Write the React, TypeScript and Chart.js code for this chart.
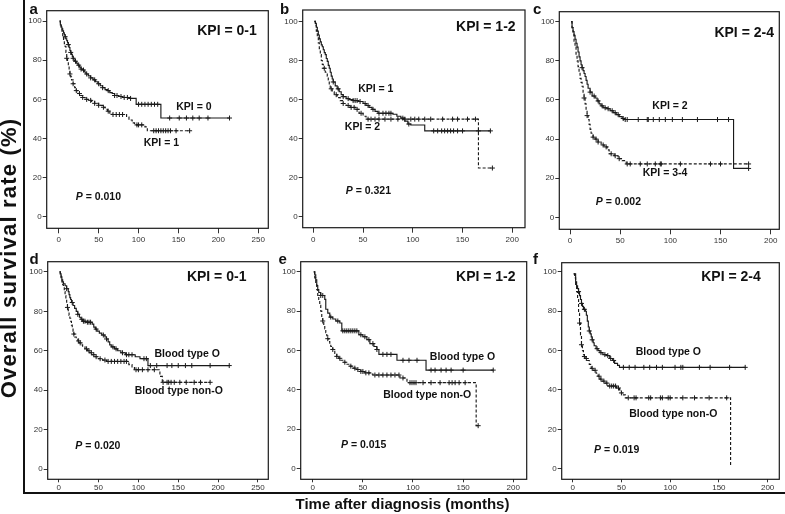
import React, { useEffect, useRef } from 'react';
import { Chart, registerables } from 'chart.js';

Chart.register(...registerables);

const FONT = '"Liberation Sans", Arial, Helvetica, sans-serif';
const INK = '#1a1a1a';
const W = 785;
const H = 514;
const Y_AXIS_W = 32;
const X_AXIS_H = 22;

// ---------- tick labels ----------
const Y_TICKS = [0, 20, 40, 60, 80, 100];
const X_TICKS_250 = [0, 50, 100, 150, 200, 250];
const X_TICKS_200 = [0, 50, 100, 150, 200];

// ---------- panel a : KPI 0-1 ----------
const A_KPI0_STEPS = [[1,100],[2,98],[3,97],[4,96],[5,95],[6,94],[7,93],[8,92],[9,91],[10,90],[11,89],[12,88],[13,86.5],[14,85],[15,84],[16,83],[17,82],[18,81],[19,80],[20,79.5],[22,78.5],[24,77.5],[26,76.5],[28,75.5],[30,75],[32,74],[34,73],[37,72],[40,71],[43,70],[46,69],[49,68],[52,67],[55,66],[58,65],[61,64.5],[64,63.5],[67,63],[70,62],[75,61.5],[80,61],[89,60.5],[97,57.5],[128,50.5],[214,50.5]];
const A_KPI0_CENS = [8,12,15,18,21,25,28,31,35,40,45,50,55,62,70,73,78,82,86,90,100,104,108,112,116,120,124,139,151,160,168,176,187,214];
const A_KPI1_STEPS = [[1,100],[2,98],[3,96],[4,94],[5,92],[6,90],[7,88.5],[8,87],[9,84],[10,81],[11,79],[12,77],[13,75],[14,73],[15,71.5],[16,70],[18,68],[20,66],[22,64.5],[24,63],[27,62],[30,61],[33,60],[37,59.5],[41,59],[45,58],[50,57],[55,56],[58,55],[61,54],[64,53],[67,52.3],[85,51],[88,49.5],[92,48],[95,47],[108,46],[111,44],[164,44]];
const A_KPI1_CENS = [10,14,18,22,26,30,35,40,45,50,56,62,68,72,76,80,98,100,104,119,122,125,128,131,134,137,140,147,164];

// ---------- panel b : KPI 1-2 ----------
const B_KPI1_STEPS = [[1,100],[2,99],[3,97],[4,95],[5,93],[6,91],[7,89.5],[8,88],[9,87],[10,85.5],[11,84],[12,83],[13,81],[14,79.5],[15,77.5],[16,76],[17,74],[18,72],[19,70.5],[20,69],[22,67],[24,65.5],[26,64],[28,62.5],[30,61.5],[33,60.5],[36,60],[40,59.5],[45,59],[50,58],[53,57],[56,56],[59,55],[62,54],[65,53],[80,52.5],[84,51.5],[88,50.5],[92,49],[95,47.5],[98,47],[112,44],[178,44]];
const B_KPI1_CENS = [20,25,30,35,40,42,44,47,52,55,60,66,70,73,76,78,90,96,121,125,129,132,135,138,141,145,150,166,178];
const B_KPI2_STEPS = [[1,100],[2,98],[3,95],[4,92],[5,89],[6,86],[7,83],[8,80],[9,78],[10,76],[12,74],[14,72],[15,70],[16,67.5],[17,65.5],[19,64],[21,62.5],[24,61],[27,59.5],[30,58],[33,57],[37,56],[42,55],[46,53],[50,51.5],[53,50],[166,25],[180,25]];
const B_KPI2_CENS = [11,18,23,30,35,38,41,44,48,55,58,62,66,72,78,85,92,98,102,106,112,118,130,140,145,155,163,180];

// ---------- panel c : KPI 2-4 ----------
const C_KPI2_STEPS = [[1,100],[2,97],[3,95],[4,93],[5,91],[6,89],[7,87],[8,84.5],[9,82],[10,80],[11,78],[12,76.5],[13,75],[14,73.5],[15,72],[16,70],[17,68],[18,66],[20,64],[22,62],[25,61],[27,59.5],[29,58],[31,57],[33,56],[37,55.5],[40,54.5],[43,53.5],[46,52.5],[49,51.5],[52,50.5],[54,50],[163,25],[178,25]];
const C_KPI2_CENS = [12,20,24,28,32,35,38,42,45,48,53,55,57,68,77,78,83,89,95,102,112,127,147,158,178];
const C_KPI34_STEPS = [[1,100],[2,97],[3,94],[4,90],[5,87],[6,83],[7,80],[8,77],[9,74],[10,71],[11,69],[12,67],[13,64],[14,61],[15,58],[16,55],[17,52],[18,50],[19,47.5],[20,45],[21,43],[23,41],[25,40],[28,38.5],[31,37],[34,36],[37,34.5],[39,32.5],[44,31.5],[48,30],[52,29],[56,27.3],[178,27.3]];
const C_KPI34_CENS = [14,17,23,26,28,33,36,41,45,49,57,60,70,77,85,90,91,110,140,150,178];

// ---------- panel d : KPI 0-1, blood type ----------
const D_O_STEPS = [[1,100],[2,99],[3,97.5],[4,96],[5,95],[6,94],[8,93],[10,91.5],[12,90],[13,88.5],[14,87],[15,86],[16,84.5],[18,83],[20,81.5],[22,80],[24,78.5],[26,77],[28,76],[30,75],[34,74.5],[42,73.5],[44,72],[46,71],[48,70],[51,69],[54,68],[58,67],[60,66],[62,64.5],[64,63],[66,62],[70,61],[74,60],[78,59],[84,58],[96,57],[102,56],[112,52.5],[214,52.5]];
const D_O_CENS = [10,17,24,29,31,33,36,38,40,47,56,60,68,72,80,85,88,92,107,110,115,123,136,142,150,159,167,190,214];
const D_NONO_STEPS = [[1,100],[2,98],[3,96.5],[4,95],[5,93.5],[6,92],[7,90],[8,88],[9,86],[10,84],[11,82],[12,80],[13,78],[14,76.5],[15,75],[16,73],[17,71.5],[18,70],[19,68.5],[20,67],[22,66],[24,65],[26,64],[28,63],[30,62],[33,61],[36,60],[39,59],[42,58],[45,57],[50,56],[55,55.3],[60,54.6],[88,53],[92,51.5],[95,50.4],[127,47],[130,44],[190,44]];
const D_NONO_CENS = [11,19,25,27,35,38,41,44,47,52,58,62,66,70,74,78,82,85,97,100,105,112,120,131,136,138,141,145,152,160,170,178,190];

// ---------- panel e : KPI 1-2, blood type ----------
const E_O_STEPS = [[1,100],[2,98.5],[3,96],[4,93],[5,91],[6,89.5],[8,88],[12,86],[13,81],[15,79],[17,77],[20,76],[23,75],[27,74],[29,70],[46,68],[50,67],[54,65.5],[57,63.5],[61,62],[64,60.5],[66,58],[84,55],[113,50],[180,50]];
const E_O_CENS = [8,10,18,25,30,32,34,36,38,40,42,44,48,52,56,60,64,70,74,78,90,96,104,118,122,128,133,138,150,180];
const E_NONO_STEPS = [[1,100],[2,97],[3,94],[4,91],[5,88],[6,86],[7,83],[8,80],[9,77],[10,75],[11,73],[12,71],[13,69],[14,67.5],[15,66],[16,64.5],[17,63],[18,62],[20,60.5],[22,58.5],[24,57],[26,56],[28,55],[30,54],[33,53],[36,52],[40,51],[44,50.3],[48,49.3],[52,48.6],[57,48],[60,47.5],[87,46],[94,43.6],[163,21.7],[165,21.7]];
const E_NONO_CENS = [10,15,20,24,27,32,38,42,45,48,50,53,56,62,66,70,74,78,82,86,90,97,99,101,103,110,118,127,136,139,142,146,152,165];

// ---------- panel f : KPI 2-4, blood type ----------
const F_O_STEPS = [[1,99],[3,95],[4,93],[5,91.5],[6,90],[7,88],[8,86],[9,84],[10,82.5],[11,81],[13,80],[14,78],[15,75],[16,72],[17,70],[18,68.5],[19,67],[20,65.5],[21,64],[22,62.5],[24,61],[26,60],[28,59],[31,58],[35,57.5],[38,56],[41,55],[43,53.5],[46,52.5],[48,51.5],[177,51.5]];
const F_O_CENS = [6,9,12,17,20,25,29,33,36,39,42,52,58,64,73,79,86,92,105,111,113,130,141,161,177];
const F_NONO_STEPS = [[1,99],[2,97],[3,93],[4,90],[5,86],[6,79],[7,74],[8,68],[9,63],[10,60],[11,58],[12,57],[13,56],[15,55],[17,53],[19,51],[21,50],[24,48.5],[26,47],[28,45.5],[30,44.5],[33,43.5],[36,42],[45,41],[48,40],[50,38.5],[52,37.5],[54,36],[162,1]];
const F_NONO_CENS = [7,9,12,14,20,23,27,29,32,35,38,40,42,44,47,50,57,63,65,78,80,90,92,98,100,113,125,140,158];

// ---------- panel layout ----------
type Curve = { steps: number[][]; cens: number[]; dashed: boolean };
type Label = { text: string; t: number; s: number; kind: 'title' | 'curve' | 'p' };
type PanelCfg = {
  letter: string; lx: number; ly: number;
  box: { l: number; t: number; r: number; b: number };
  xMin: number; xMax: number; yMin: number; yMax: number;
  xTicks: number[]; tickLen: number; tickPad: number;
  curves: Curve[]; labels: Label[];
};

const PANELS: PanelCfg[] = [
  {
    letter: 'a', lx: 29.5, ly: 13.5,
    box: { l: 46.7, t: 10.7, r: 268.3, b: 228.3 },
    xMin: -15.1, xMax: 262.6, yMin: -5.8, yMax: 105.3, xTicks: X_TICKS_250, tickLen: 5, tickPad: 2,
    curves: [
      { steps: A_KPI0_STEPS, cens: A_KPI0_CENS, dashed: false },
      { steps: A_KPI1_STEPS, cens: A_KPI1_CENS, dashed: true },
    ],
    labels: [
      { text: 'KPI = 0-1', t: 210.8, s: 94.7, kind: 'title' },
      { text: 'KPI = 0', t: 169.4, s: 56, kind: 'curve' },
      { text: 'KPI = 1', t: 128.6, s: 37.6, kind: 'curve' },
      { text: '0.010', t: 49.7, s: 10.2, kind: 'p' },
    ],
  },
  {
    letter: 'b', lx: 280, ly: 13.5,
    box: { l: 302.7, t: 10, r: 525, b: 227.7 },
    xMin: -10.7, xMax: 212.8, yMin: -5.5, yMax: 105.8, xTicks: X_TICKS_200, tickLen: 5, tickPad: 2,
    curves: [
      { steps: B_KPI1_STEPS, cens: B_KPI1_CENS, dashed: false },
      { steps: B_KPI2_STEPS, cens: B_KPI2_CENS, dashed: true },
    ],
    labels: [
      { text: 'KPI = 1-2', t: 173.4, s: 97.2, kind: 'title' },
      { text: 'KPI = 1', t: 62.8, s: 65.3, kind: 'curve' },
      { text: 'KPI = 2', t: 49.4, s: 45.9, kind: 'curve' },
      { text: '0.321', t: 55.3, s: 13.1, kind: 'p' },
    ],
  },
  {
    letter: 'c', lx: 533, ly: 13.5,
    box: { l: 559.3, t: 11.7, r: 779.3, b: 229.3 },
    xMin: -10.7, xMax: 208.6, yMin: -6.1, yMax: 105.1, xTicks: X_TICKS_200, tickLen: 5, tickPad: 2,
    curves: [
      { steps: C_KPI2_STEPS, cens: C_KPI2_CENS, dashed: false },
      { steps: C_KPI34_STEPS, cens: C_KPI34_CENS, dashed: true },
    ],
    labels: [
      { text: 'KPI = 2-4', t: 173.6, s: 94.1, kind: 'title' },
      { text: 'KPI = 2', t: 99.6, s: 56.9, kind: 'curve' },
      { text: 'KPI = 3-4', t: 94.7, s: 22.5, kind: 'curve' },
      { text: '0.002', t: 48.2, s: 8.0, kind: 'p' },
    ],
  },
  {
    letter: 'd', lx: 29.5, ly: 264,
    box: { l: 47.7, t: 261.7, r: 268.3, b: 479.3 },
    xMin: -13.8, xMax: 263, yMin: -5.2, yMax: 105.2, xTicks: X_TICKS_250, tickLen: 3, tickPad: 1,
    curves: [
      { steps: D_O_STEPS, cens: D_O_CENS, dashed: false },
      { steps: D_NONO_STEPS, cens: D_NONO_CENS, dashed: true },
    ],
    labels: [
      { text: 'KPI = 0-1', t: 198.2, s: 97.6, kind: 'title' },
      { text: 'Blood type O', t: 161.2, s: 58.4, kind: 'curve' },
      { text: 'Blood type non-O', t: 150.7, s: 39.7, kind: 'curve' },
      { text: '0.020', t: 49.1, s: 11.7, kind: 'p' },
    ],
  },
  {
    letter: 'e', lx: 278.5, ly: 264,
    box: { l: 300.7, t: 261.7, r: 526.7, b: 479.3 },
    xMin: -12, xMax: 213.4, yMin: -5.6, yMax: 105.2, xTicks: X_TICKS_200, tickLen: 3, tickPad: 1,
    curves: [
      { steps: E_O_STEPS, cens: E_O_CENS, dashed: false },
      { steps: E_NONO_STEPS, cens: E_NONO_CENS, dashed: true },
    ],
    labels: [
      { text: 'KPI = 1-2', t: 172.6, s: 97.3, kind: 'title' },
      { text: 'Blood type O', t: 149.4, s: 56.7, kind: 'curve' },
      { text: 'Blood type non-O', t: 114.2, s: 37.3, kind: 'curve' },
      { text: '0.015', t: 50.8, s: 11.6, kind: 'p' },
    ],
  },
  {
    letter: 'f', lx: 533, ly: 264,
    box: { l: 561.7, t: 262.7, r: 779.3, b: 479.3 },
    xMin: -11.3, xMax: 212, yMin: -5.4, yMax: 104.7, xTicks: X_TICKS_200, tickLen: 3, tickPad: 1,
    curves: [
      { steps: F_O_STEPS, cens: F_O_CENS, dashed: false },
      { steps: F_NONO_STEPS, cens: F_NONO_CENS, dashed: true },
    ],
    labels: [
      { text: 'KPI = 2-4', t: 162.4, s: 97.6, kind: 'title' },
      { text: 'Blood type O', t: 98.1, s: 59.5, kind: 'curve' },
      { text: 'Blood type non-O', t: 103.2, s: 27.8, kind: 'curve' },
      { text: '0.019', t: 45.1, s: 9.5, kind: 'p' },
    ],
  },
];

function survAt(steps: number[][], t: number): number {
  let s = steps[0][1];
  for (const [ti, si] of steps) {
    if (ti <= t) s = si;
    else break;
  }
  return s;
}

function Panel({ cfg }: { cfg: PanelCfg }) {
  const ref = useRef<HTMLCanvasElement | null>(null);

  useEffect(() => {
    const canvas = ref.current;
    if (!canvas) return;

    const datasets: any[] = [];
    cfg.curves.forEach((c) => {
      datasets.push({
        data: c.steps.map(([x, y]) => ({ x, y })),
        borderColor: INK,
        borderWidth: 1.15,
        borderDash: c.dashed ? [3, 2] : [],
        stepped: 'before',
        pointRadius: 0,
        fill: false,
        tension: 0,
      });
      datasets.push({
        data: c.cens.map((t) => ({ x: t, y: survAt(c.steps, t) })),
        showLine: false,
        pointStyle: 'cross',
        pointRadius: 2.5,
        pointBorderWidth: 1,
        pointBorderColor: INK,
        pointBackgroundColor: INK,
      });
    });

    const panelPlugin = {
      id: 'panelDecor' + cfg.letter,
      afterDraw(chart: any) {
        const { ctx, chartArea } = chart;
        const xs = chart.scales.x;
        const ys = chart.scales.y;
        ctx.save();
        ctx.strokeStyle = INK;
        ctx.lineWidth = 1.2;
        ctx.setLineDash([]);
        ctx.strokeRect(chartArea.left, chartArea.top, chartArea.right - chartArea.left, chartArea.bottom - chartArea.top);

        ctx.fillStyle = '#111';
        ctx.textBaseline = 'alphabetic';
        ctx.textAlign = 'left';
        ctx.font = `bold 15px ${FONT}`;
        ctx.fillText(cfg.letter, cfg.lx, cfg.ly);

        ctx.textBaseline = 'middle';
        cfg.labels.forEach((lb) => {
          const px = xs.getPixelForValue(lb.t);
          const py = ys.getPixelForValue(lb.s);
          if (lb.kind === 'p') {
            const italic = `italic bold 10.5px ${FONT}`;
            const normal = `bold 10.5px ${FONT}`;
            ctx.font = italic;
            const w1 = ctx.measureText('P').width;
            ctx.font = normal;
            const rest = ' = ' + lb.text;
            const w2 = ctx.measureText(rest).width;
            const x0 = px - (w1 + w2) / 2;
            ctx.textAlign = 'left';
            ctx.font = italic;
            ctx.fillText('P', x0, py);
            ctx.font = normal;
            ctx.fillText(rest, x0 + w1, py);
          } else {
            ctx.textAlign = 'center';
            ctx.font = lb.kind === 'title' ? `bold 14px ${FONT}` : `bold 10.5px ${FONT}`;
            ctx.fillText(lb.text, px, py);
          }
        });
        ctx.restore();
      },
    };

    const tickFont = { family: FONT, size: 8 };
    const chart = new Chart(canvas, {
      type: 'line',
      data: { datasets },
      options: {
        responsive: false,
        animation: false,
        events: [],
        layout: {
          padding: {
            left: cfg.box.l - Y_AXIS_W,
            top: cfg.box.t,
            right: W - cfg.box.r,
            bottom: H - cfg.box.b - X_AXIS_H,
          },
        },
        plugins: {
          legend: { display: false },
          tooltip: { enabled: false },
          title: { display: false },
        },
        scales: {
          x: {
            type: 'linear',
            min: cfg.xMin,
            max: cfg.xMax,
            afterBuildTicks: (s: any) => {
              s.ticks = cfg.xTicks.map((v) => ({ value: v }));
            },
            afterFit: (s: any) => {
              s.height = X_AXIS_H;
            },
            grid: { drawOnChartArea: false, drawTicks: true, tickLength: cfg.tickLen, color: '#333', lineWidth: 1 },
            border: { display: false },
            ticks: { font: tickFont, color: '#333', padding: cfg.tickPad, maxRotation: 0, autoSkip: false },
          },
          y: {
            type: 'linear',
            min: cfg.yMin,
            max: cfg.yMax,
            afterBuildTicks: (s: any) => {
              s.ticks = Y_TICKS.map((v) => ({ value: v }));
            },
            afterFit: (s: any) => {
              s.width = Y_AXIS_W;
            },
            grid: { drawOnChartArea: false, drawTicks: true, tickLength: 4, color: '#333', lineWidth: 1 },
            border: { display: false },
            ticks: { font: tickFont, color: '#333', padding: 1, autoSkip: false },
          },
        },
      } as any,
      plugins: [panelPlugin],
    } as any);

    return () => chart.destroy();
  }, [cfg]);

  return (
    <canvas
      ref={ref}
      width={W}
      height={H}
      style={{ position: 'absolute', left: 0, top: 0, width: W, height: H }}
    />
  );
}

export default function App() {
  return (
    <div
      style={{
        position: 'absolute',
        left: 0,
        top: 0,
        width: W,
        height: H,
        background: '#fff',
        overflow: 'hidden',
        fontFamily: FONT,
      }}
    >
      {PANELS.map((p) => (
        <Panel key={p.letter} cfg={p} />
      ))}
      <div style={{ position: 'absolute', left: 22.5, top: 0, width: 2, height: 494, background: '#111' }} />
      <div style={{ position: 'absolute', left: 22.5, top: 491.5, width: W - 22.5, height: 2, background: '#111' }} />
      <div
        style={{
          position: 'absolute',
          left: 9 - 160,
          top: 258 - 11,
          width: 320,
          height: 22,
          lineHeight: '22px',
          fontSize: 22,
          fontWeight: 'bold',
          textAlign: 'center',
          letterSpacing: '1.2px',
          color: '#111',
          transform: 'rotate(-90deg)',
          whiteSpace: 'nowrap',
        }}
      >
        Overall survival rate (%)
      </div>
      <div
        style={{
          position: 'absolute',
          left: 402.5 - 200,
          top: 496.3,
          width: 400,
          lineHeight: '15px',
          fontSize: 15,
          fontWeight: 'bold',
          textAlign: 'center',
          color: '#111',
          whiteSpace: 'nowrap',
        }}
      >
        Time after diagnosis (months)
      </div>
    </div>
  );
}
